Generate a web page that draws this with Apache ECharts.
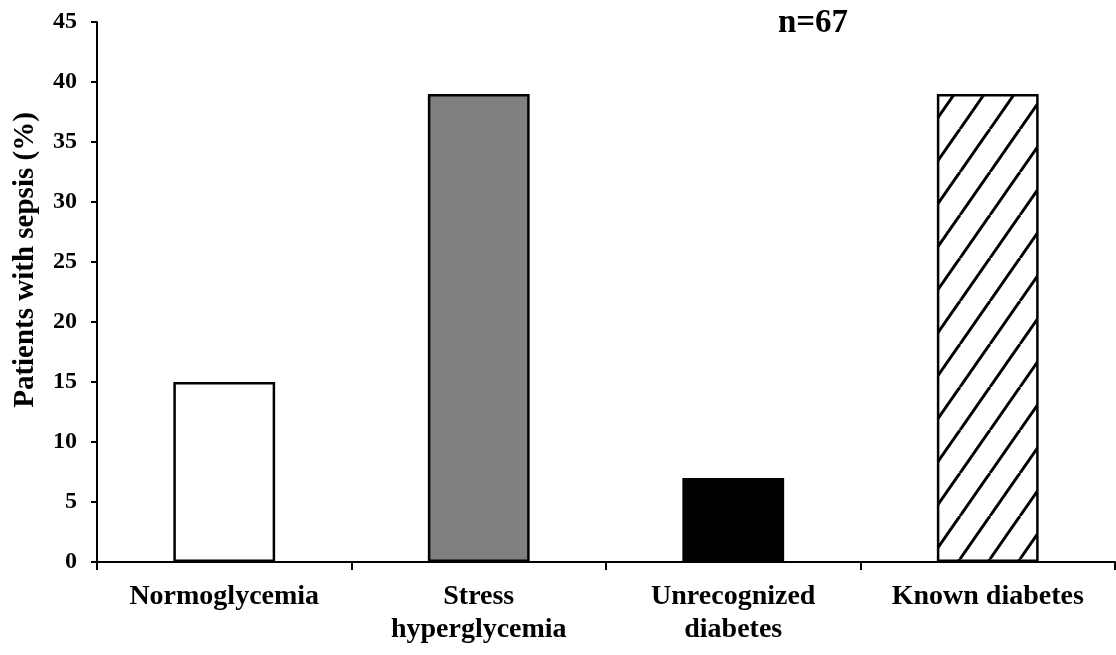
<!DOCTYPE html>
<html>
<head>
<meta charset="utf-8">
<script src="https://cdn.jsdelivr.net/npm/echarts@6/dist/echarts.min.js"></script>
<style>
  html, body { margin: 0; padding: 0; background: #fff; }
  #chart { width: 1116px; height: 655px; }
</style>
</head>
<body>
<div id="chart"></div>
<script>
  const categories = ['Normoglycemia', 'Stress\nhyperglycemia', 'Unrecognized\ndiabetes', 'Known diabetes']
  const sepsisPct = [15, 39, 7, 39]
  const yTicks = { min: 0, max: 45, interval: 5 }
  const fills = ['#ffffff', '#808080', '#000000', 'hatch']

  const serif = "'Liberation Serif', 'Times New Roman', serif"

  // diagonal hatch tile for the last bar
  function hatchPattern() {
    const w = 30, h = 43
    const c = document.createElement('canvas')
    c.width = w
    c.height = h
    const ctx = c.getContext('2d')
    ctx.fillStyle = '#fff'
    ctx.fillRect(0, 0, w, h)
    ctx.strokeStyle = '#000'
    ctx.lineWidth = 3
    for (let k = -1; k <= 1; k++) {
      ctx.beginPath()
      ctx.moveTo(k * w, h)
      ctx.lineTo(k * w + w, 0)
      ctx.stroke()
    }
    return { image: c, repeat: 'repeat' }
  }

  const chart = echarts.init(document.getElementById('chart'), null, { renderer: 'canvas' })

  chart.setOption({
    animation: false,
    title: {
      text: 'n=67',
      left: 813,
      top: 7,
      padding: 0,
      textAlign: 'center',
      textStyle: { fontFamily: serif, fontSize: 33, fontWeight: 'bold', color: '#000' }
    },
    grid: {
      left: 97,
      right: 1,
      top: 22,
      bottom: 93,
      containLabel: false,
      outerBoundsMode: 'none'
    },
    xAxis: {
      type: 'category',
      data: categories,
      axisLine: { lineStyle: { color: '#000', width: 2 } },
      axisTick: { show: true, length: 8, inside: false, lineStyle: { color: '#000', width: 2 } },
      axisLabel: {
        interval: 0,
        margin: 18,
        color: '#000',
        fontFamily: serif,
        fontSize: 28,
        fontWeight: 'bold',
        lineHeight: 33
      },
      splitLine: { show: false }
    },
    yAxis: {
      type: 'value',
      min: yTicks.min,
      max: yTicks.max,
      interval: yTicks.interval,
      name: 'Patients with sepsis (%)',
      nameLocation: 'middle',
      nameGap: 57,
      nameTextStyle: {
        fontFamily: serif,
        fontSize: 29,
        fontWeight: 'bold',
        color: '#000',
        padding: [0, 0, 0, 64]
      },
      axisLine: { show: true, lineStyle: { color: '#000', width: 2 } },
      axisTick: { show: true, length: 6, inside: false, lineStyle: { color: '#000', width: 2 } },
      axisLabel: {
        margin: 20,
        color: '#000',
        fontFamily: serif,
        fontSize: 24,
        fontWeight: 'bold'
      },
      splitLine: { show: false }
    },
    series: [{
      type: 'bar',
      barWidth: '40%',
      data: sepsisPct.map((v, i) => ({
        value: v,
        itemStyle: {
          color: fills[i] === 'hatch' ? hatchPattern() : fills[i],
          borderColor: '#000',
          borderWidth: 2.5
        }
      }))
    }]
  })
</script>
</body>
</html>
